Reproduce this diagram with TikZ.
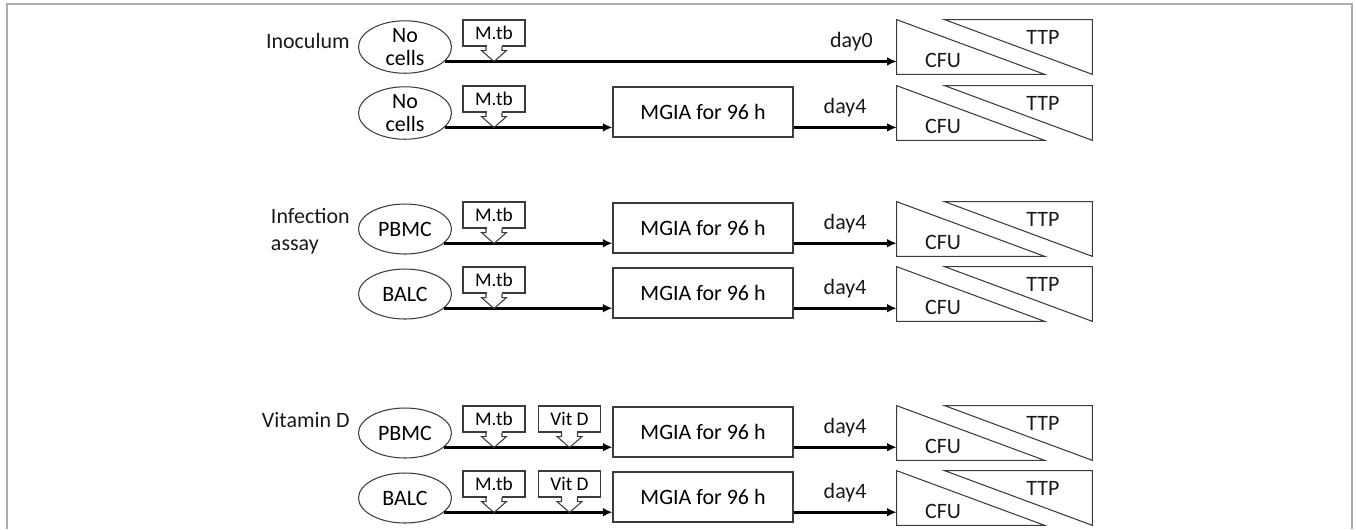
\documentclass[tikz,border=0pt]{standalone}
\usepackage{fontspec}
\setmainfont{Carlito}
\usetikzlibrary{positioning,arrows.meta,shapes.geometric}

\definecolor{outline}{HTML}{3C3C3C}

% hollow down-pointer under an additive box, tip sits on the flow line
\newcommand{\tbpointer}[1]{%
    \fill[white] ([xshift=-0.15cm,yshift=0.7pt]#1.south) rectangle ([xshift=0.15cm,yshift=-0.7pt]#1.south);
    \draw[draw=outline, line width=0.6pt] ([xshift=-0.16cm]#1.south) -- ++(0cm,-0.08cm) -- ++(-0.09cm,0cm)
        -- ++(0.25cm,-0.22cm) -- ++(0.25cm,0.22cm) -- ++(-0.09cm,0cm) -- ++(0cm,0.08cm);
}

% CFU / TTP readout triangles inside a result node
\newcommand{\readout}[1]{%
    \draw[draw=outline, line width=0.6pt] (#1.north west) -- (#1.south west) -- ([xshift=2.96cm]#1.south west) -- cycle;
    \draw[draw=outline, line width=0.6pt] ([xshift=0.96cm]#1.north west) -- (#1.north east) -- (#1.south east) -- cycle;
    \node[txt] (#1cfu) at ([shift={(-1.03cm,-0.26cm)}]#1.center) {CFU};
    \node[txt] (#1ttp) at ([shift={(0.97cm,0.2cm)}]#1.center) {TTP};
}

\begin{document}
\begin{tikzpicture} [
                x=0.02cm, y=-0.02cm,
                txt/.style={
                    font=\fontsize{12.5}{13}\selectfont,
                    text=black!90,
                    inner sep=0pt
                },
                rowlabel/.style={
                    txt,
                    font=\fontsize{12.5}{15}\selectfont,
                    anchor=east,
                    align=left
                },
                cellnode/.style={
                    ellipse,
                    draw=outline,
                    line width=0.6pt,
                    font=\fontsize{12.5}{13}\selectfont,
                    align=center,
                    inner sep=0pt,
                    minimum width=1.86cm,
                    minimum height=1cm
                },
                addnode/.style={
                    rectangle,
                    draw=outline,
                    line width=0.6pt,
                    font=\fontsize{11}{12}\selectfont,
                    minimum width=1.24cm,
                    minimum height=0.52cm
                },
                mgianode/.style={
                    rectangle,
                    draw=outline,
                    line width=0.6pt,
                    font=\fontsize{12.5}{13}\selectfont,
                    minimum width=3.6cm,
                    minimum height=1cm
                },
                resnode/.style={
                    rectangle,
                    inner sep=0pt,
                    minimum width=3.9cm,
                    minimum height=1.08cm
                },
                daylabel/.style={
                    txt,
                    above=5pt
                },
                flow/.style={
                    line width=1.7pt,
                    -{Latex[length=5.5pt,width=5pt]}
                }
            ]

                \useasboundingbox (0,0) rectangle (1356,529);
                \draw[gray!65, line width=1.3pt] (7,529) -- (7,4) -- (1352,4) -- (1352,529);

                % inoculum
                \node[rowlabel]     (lab1)      at (350,41)         {Inoculum};
                \node[cellnode]     (cell1)     at (405,47)         {No\\cells};
                \node[addnode]      (mtb1)      at (494,33)         {M.tb};
                \node[resnode]      (res1)      at (994.5,47)       {};

                \node[cellnode]     (cell2)     at (405,113)        {No\\cells};
                \node[addnode]      (mtb2)      at (494,99)         {M.tb};
                \node[mgianode]     (mgia2)     at (703,112)        {MGIA for 96 h};
                \node[resnode]      (res2)      at (994.5,113)      {};

                % infection assay
                \node[rowlabel]     (lab2)      at (350,231)        {Infection\\assay};
                \node[cellnode]     (cell3)     at (405,229)        {PBMC};
                \node[addnode]      (mtb3)      at (494,215)        {M.tb};
                \node[mgianode]     (mgia3)     at (703,228)        {MGIA for 96 h};
                \node[resnode]      (res3)      at (994.5,229)      {};

                \node[cellnode]     (cell4)     at (405,294)        {BALC};
                \node[addnode]      (mtb4)      at (494,280)        {M.tb};
                \node[mgianode]     (mgia4)     at (703,293)        {MGIA for 96 h};
                \node[resnode]      (res4)      at (994.5,294)      {};

                % vitamin D
                \node[rowlabel]     (lab3)      at (350,420)        {Vitamin D};
                \node[cellnode]     (cell5)     at (405,433)        {PBMC};
                \node[addnode]      (mtb5)      at (494,419)        {M.tb};
                \node[addnode]      (vitd5)     at (569.5,419)      {Vit D};
                \node[mgianode]     (mgia5)     at (703,432)        {MGIA for 96 h};
                \node[resnode]      (res5)      at (994.5,433)      {};

                \node[cellnode]     (cell6)     at (405,498)        {BALC};
                \node[addnode]      (mtb6)      at (494,484)        {M.tb};
                \node[addnode]      (vitd6)     at (569.5,484)      {Vit D};
                \node[mgianode]     (mgia6)     at (703,497)        {MGIA for 96 h};
                \node[resnode]      (res6)      at (994.5,498)      {};

                % flow lines
                \draw[flow] (cell1.-20) -- node[daylabel, pos=0.9] (day1) {day0} (cell1.-20 -| res1.west);

                \draw[flow] (cell2.-20) -- (cell2.-20 -| mgia2.west);
                \draw[flow] (cell2.-20 -| mgia2.east) -- node[daylabel] (day2) {day4} (cell2.-20 -| res2.west);
                \draw[flow] (cell3.-20) -- (cell3.-20 -| mgia3.west);
                \draw[flow] (cell3.-20 -| mgia3.east) -- node[daylabel] (day3) {day4} (cell3.-20 -| res3.west);
                \draw[flow] (cell4.-20) -- (cell4.-20 -| mgia4.west);
                \draw[flow] (cell4.-20 -| mgia4.east) -- node[daylabel] (day4) {day4} (cell4.-20 -| res4.west);
                \draw[flow] (cell5.-20) -- (cell5.-20 -| mgia5.west);
                \draw[flow] (cell5.-20 -| mgia5.east) -- node[daylabel] (day5) {day4} (cell5.-20 -| res5.west);
                \draw[flow] (cell6.-20) -- (cell6.-20 -| mgia6.west);
                \draw[flow] (cell6.-20 -| mgia6.east) -- node[daylabel] (day6) {day4} (cell6.-20 -| res6.west);

                \tbpointer{mtb1}
                \tbpointer{mtb2}
                \tbpointer{mtb3}
                \tbpointer{mtb4}
                \tbpointer{mtb5}
                \tbpointer{vitd5}
                \tbpointer{mtb6}
                \tbpointer{vitd6}

                \readout{res1}
                \readout{res2}
                \readout{res3}
                \readout{res4}
                \readout{res5}
                \readout{res6}

            \end{tikzpicture}
\end{document}
